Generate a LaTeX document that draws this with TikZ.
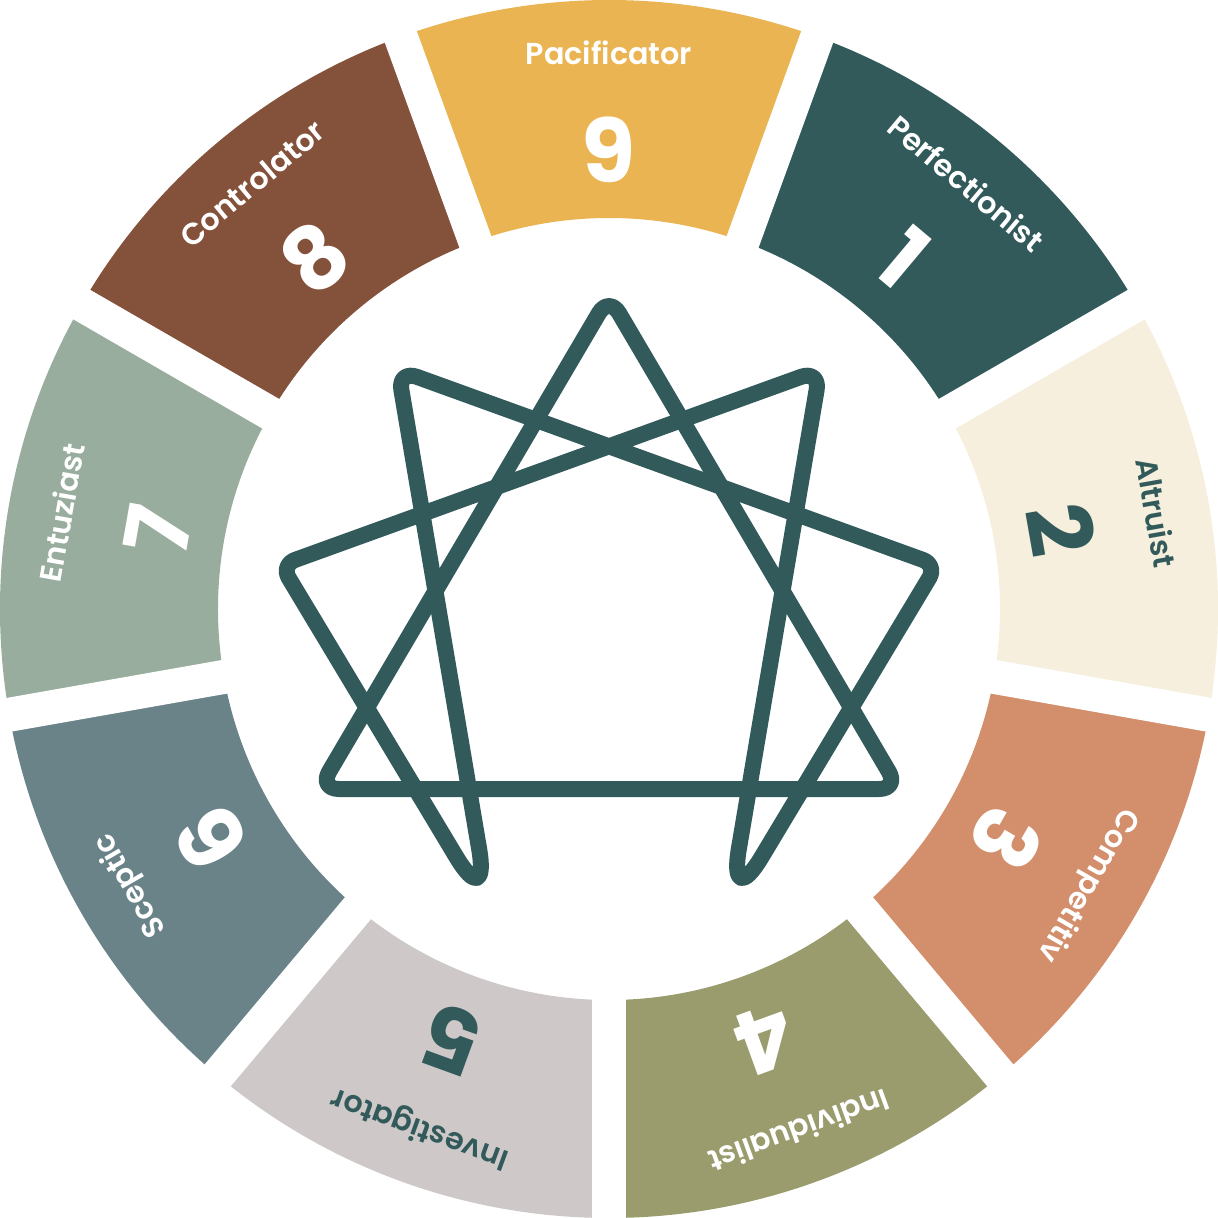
\documentclass[tikz,border=0pt]{standalone}
\usepackage{fontspec}
\setmainfont{Poppins}
\newfontfamily\namefont{Poppins SemiBold}

\definecolor{segnine}{HTML}{EBB452}
\definecolor{segone}{HTML}{325A5B}
\definecolor{segtwo}{HTML}{F6EFDD}
\definecolor{segthree}{HTML}{D38E6B}
\definecolor{segfour}{HTML}{9A9C6E}
\definecolor{segfive}{HTML}{CEC9C8}
\definecolor{segsix}{HTML}{6A8389}
\definecolor{segseven}{HTML}{98AD9D}
\definecolor{segeight}{HTML}{84513A}
\definecolor{starline}{HTML}{335A5B}

\tikzset{
  gap/.style={white, line width=3.4mm},
  typename/.style={font=\fontsize{8.6pt}{10pt}\selectfont\namefont, text=white, inner sep=0pt, text height=6.1pt, text depth=0pt},
  typenum/.style={font=\fontsize{25pt}{25pt}\selectfont\bfseries, text=white, inner sep=0pt, text height=17.5pt, text depth=0pt},
  darktext/.style={text=segone},
  figure/.style={draw=starline, line width=1.6mm, line join=round, line cap=round},
}

\begin{document}
\begin{tikzpicture}
\useasboundingbox (-6.09, -6.09) rectangle (6.09, 6.09);

% ring segments
\fill [segnine] (70:6.09) arc [start angle=70, end angle=110, radius=6.09] -- (110:3.91) arc [start angle=110, end angle=70, radius=3.91] -- cycle;
\fill [segone] (30:6.09) arc [start angle=30, end angle=70, radius=6.09] -- (70:3.91) arc [start angle=70, end angle=30, radius=3.91] -- cycle;
\fill [segtwo] (-10:6.09) arc [start angle=-10, end angle=30, radius=6.09] -- (30:3.91) arc [start angle=30, end angle=-10, radius=3.91] -- cycle;
\fill [segthree] (-50:6.09) arc [start angle=-50, end angle=-10, radius=6.09] -- (-10:3.91) arc [start angle=-10, end angle=-50, radius=3.91] -- cycle;
\fill [segfour] (-90:6.09) arc [start angle=-90, end angle=-50, radius=6.09] -- (-50:3.91) arc [start angle=-50, end angle=-90, radius=3.91] -- cycle;
\fill [segfive] (-130:6.09) arc [start angle=-130, end angle=-90, radius=6.09] -- (-90:3.91) arc [start angle=-90, end angle=-130, radius=3.91] -- cycle;
\fill [segsix] (-170:6.09) arc [start angle=-170, end angle=-130, radius=6.09] -- (-130:3.91) arc [start angle=-130, end angle=-170, radius=3.91] -- cycle;
\fill [segseven] (150:6.09) arc [start angle=150, end angle=190, radius=6.09] -- (190:3.91) arc [start angle=190, end angle=150, radius=3.91] -- cycle;
\fill [segeight] (110:6.09) arc [start angle=110, end angle=150, radius=6.09] -- (150:3.91) arc [start angle=150, end angle=110, radius=3.91] -- cycle;

% white gaps
\draw [gap] (0, 0) -- (30:6.4);
\draw [gap] (0, 0) -- (70:6.4);
\draw [gap] (0, 0) -- (110:6.4);
\draw [gap] (0, 0) -- (150:6.4);
\draw [gap] (0, 0) -- (190:6.4);
\draw [gap] (0, 0) -- (230:6.4);
\draw [gap] (0, 0) -- (270:6.4);
\draw [gap] (0, 0) -- (310:6.4);
\draw [gap] (0, 0) -- (350:6.4);

% names and numbers
\node (name9) at (90:5.55) [typename, rotate=0] {Pacificator};
\node (num9) at (90:4.57) [typenum, rotate=0] {9};
\node (name1) at (50:5.55) [typename, rotate=-40] {Perfectionist};
\node (num1) at (50:4.57) [typenum, rotate=-40] {1};
\node (name2) at (10:5.55) [typename, darktext, rotate=-80] {Altruist};
\node (num2) at (10:4.57) [typenum, darktext, rotate=-80] {2};
\node (name3) at (-30:5.55) [typename, rotate=-120] {Competitiv};
\node (num3) at (-30:4.57) [typenum, rotate=-120] {3};
\node (name4) at (-70:5.55) [typename, rotate=-160] {Individualist};
\node (num4) at (-70:4.57) [typenum, rotate=-160] {4};
\node (name5) at (-110:5.55) [typename, darktext, rotate=160] {Investigator};
\node (num5) at (-110:4.57) [typenum, darktext, rotate=160] {5};
\node (name6) at (-150:5.55) [typename, rotate=120] {Sceptic};
\node (num6) at (-150:4.57) [typenum, rotate=120] {6};
\node (name7) at (170:5.55) [typename, rotate=80] {Entuziast};
\node (num7) at (170:4.57) [typenum, rotate=80] {7};
\node (name8) at (130:5.55) [typename, rotate=40] {Controlator};
\node (num8) at (130:4.57) [typenum, rotate=40] {8};

% enneagram points
\coordinate (p9) at (0, 3.13);
\coordinate (p3) at (2.90, -1.80);
\coordinate (p6) at (-2.90, -1.80);
\coordinate (p1) at (2.11, 2.39);
\coordinate (p2) at (3.28, 0.44);
\coordinate (p4) at (1.19, -3.04);
\coordinate (p5) at (-1.19, -3.04);
\coordinate (p7) at (-3.28, 0.44);
\coordinate (p8) at (-2.11, 2.39);
\coordinate (tbase) at (0, -1.80);
\coordinate (hstart) at (-0.585, 1.415);

\draw [figure, rounded corners=2mm] (tbase) -- (p3) -- (p9) -- (p6) -- cycle;
\draw [figure, rounded corners=2mm] (hstart) [rounded corners=2mm] -- (p1) [rounded corners=6.5mm] -- (p4) [rounded corners=1.5mm] -- (p2) [rounded corners=2mm] -- (p8) [rounded corners=6.5mm] -- (p5) [rounded corners=1.5mm] -- (p7) [rounded corners=2mm] -- cycle;
\end{tikzpicture}
\end{document}
